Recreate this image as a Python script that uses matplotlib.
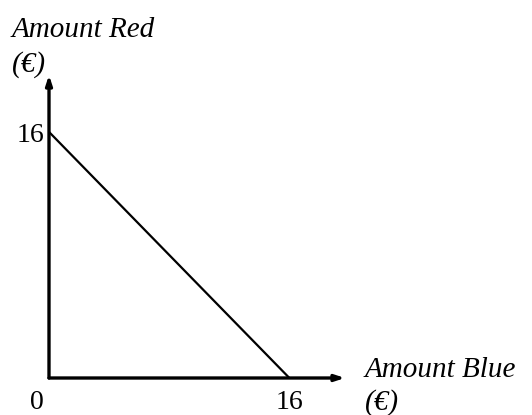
import matplotlib
matplotlib.use('Agg')
import matplotlib.pyplot as plt

# Data: the budget line between the two amounts
amount_blue = [0, 16]
amount_red = [16, 0]
x_ticks = [0, 16]
y_ticks = [16]
axis_max = 19.7

plt.rcParams['font.family'] = ['Liberation Serif', 'DejaVu Serif']

W, H = 532, 415
fig = plt.figure(figsize=(W / 100, H / 100), dpi=100)
ax = fig.add_axes([49 / W, 37 / H, 296 / W, 303 / H])
ax.set_xlim(0, axis_max)
ax.set_ylim(0, axis_max)
ax.axis('off')


def px(x, y):
    # pixel position from the top-left corner -> figure fraction
    return x / W, 1 - y / H


# axes with arrows
arrow = dict(arrowstyle='-|>,head_length=0.55,head_width=0.18', color='black', lw=2.4,
             shrinkA=0, shrinkB=0)
ax.annotate('', xy=(axis_max, 0), xytext=(0, 0), arrowprops=arrow, annotation_clip=False)
ax.annotate('', xy=(0, axis_max), xytext=(0, 0), arrowprops=arrow, annotation_clip=False)

ax.plot(amount_blue, amount_red, color='black', lw=1.6, solid_capstyle='butt', clip_on=False)

fs_num = 20
fs_lab = 21
for t in x_ticks:
    ax.annotate(str(t), xy=(t, 0), xytext=(-9 if t == 0 else 0, -22),
                textcoords='offset points', ha='center', va='baseline', fontsize=fs_num)
for t in y_ticks:
    ax.annotate(str(t), xy=(0, t), xytext=(-3, -7), textcoords='offset points',
                ha='right', va='baseline', fontsize=fs_num)

fig.text(*px(365, 377), 'Amount Blue', ha='left', va='baseline', fontsize=fs_lab, style='italic')
fig.text(*px(365, 410), '(€)', ha='left', va='baseline', fontsize=fs_lab, style='italic')
fig.text(*px(12, 37), 'Amount Red', ha='left', va='baseline', fontsize=fs_lab, style='italic')
fig.text(*px(12, 72), '(€)', ha='left', va='baseline', fontsize=fs_lab, style='italic')

fig.savefig('out.png', dpi=100)
